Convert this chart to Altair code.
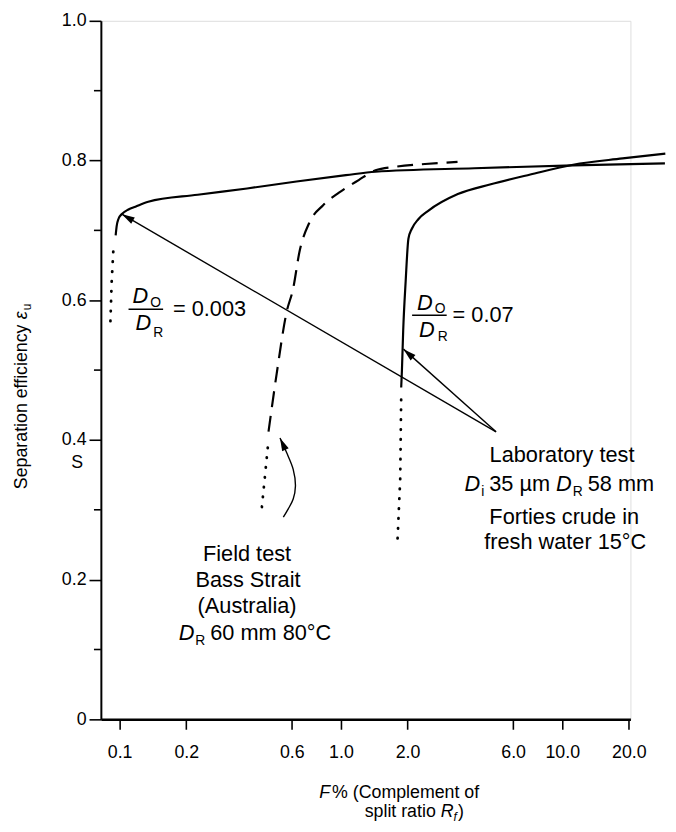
import altair as alt
import pandas as pd

# ---------------- values ----------------
# D_O/D_R = 0.003 (laboratory test): dotted lower part, solid upper part
c1_dot_x = [0.0909, 0.0921, 0.0940]
c1_dot_y = [0.570, 0.627, 0.680]
c1_x = [0.0960, 0.0970, 0.0990, 0.1021, 0.1097, 0.1179, 0.1347, 0.2253, 0.3767,
        0.6297, 1.053, 1.433, 4.007, 11.20, 29.1]
c1_y = [0.693, 0.706, 0.717, 0.723, 0.730, 0.734, 0.741, 0.751, 0.760,
        0.770, 0.779, 0.784, 0.789, 0.793, 0.796]

# D_O/D_R = 0.07 (laboratory test)
c2_dot_x = [1.803, 1.853, 1.872]
c2_dot_y = [0.259, 0.344, 0.462]
c2_x = [1.872, 1.886, 1.911, 1.961, 2.018, 2.089, 2.237, 2.479, 3.374, 4.756,
        7.175, 11.20, 18.73, 29.22]
c2_y = [0.475, 0.499, 0.556, 0.627, 0.688, 0.702, 0.716, 0.728, 0.752, 0.766,
        0.780, 0.794, 0.803, 0.810]

# Field test, Bass Strait (dashed, dotted lower part)
c3_dot_x = [0.4394, 0.4708]
c3_dot_y = [0.304, 0.400]
c3_x = [0.4708, 0.5126, 0.5682, 0.6086, 0.6494, 0.7197, 0.8310, 0.9797, 1.203,
        1.433, 1.760, 2.396, 3.364]
c3_y = [0.412, 0.495, 0.583, 0.617, 0.669, 0.711, 0.736, 0.754, 0.772,
        0.786, 0.791, 0.795, 0.798]

# annotation arrows (tail -> tip)
arrow_long_x = [5.022, 0.1024]
arrow_long_y = [0.4116, 0.7232]
arrow_short_x = [5.022, 1.917]
arrow_short_y = [0.4116, 0.530]
arrow_field_x = [0.5493, 0.5781, 0.6086, 0.6230, 0.6086, 0.5682, 0.5305]
arrow_field_y = [0.2895, 0.3013, 0.3154, 0.3342, 0.3579, 0.3819, 0.4027]
head_angles = [300, 312, 335]

x_ticks = [0.1, 0.2, 0.6, 1.0, 2.0, 6.0, 10.0, 20.0]
y_ticks = [0, 0.2, 0.4, 0.6, 0.8, 1.0]
y_minor = [0.1, 0.3, 0.5, 0.7, 0.9]

# ---------------- layout / style ----------------
FONT = "Liberation Sans"
OX, OY = 102, 16          # page position of plot origin
W, H = 536, 707


def seg(xs, ys, name):
    return pd.DataFrame({"F": xs, "E": ys, "seg": name, "i": list(range(len(xs)))})


solid_df = pd.concat([seg(c1_x, c1_y, "c1"), seg(c2_x, c2_y, "c2")])
dot_df = pd.concat([seg(c1_dot_x, c1_dot_y, "c1"), seg(c2_dot_x, c2_dot_y, "c2"),
                    seg(c3_dot_x, c3_dot_y, "c3")])
dash_df = seg(c3_x, c3_y, "c3")
arrow_df = pd.concat([seg(arrow_long_x, arrow_long_y, "a1"),
                      seg(arrow_short_x, arrow_short_y, "a2"),
                      seg(arrow_field_x, arrow_field_y, "a3")])
head_df = pd.DataFrame({"F": [arrow_long_x[-1], arrow_short_x[-1], arrow_field_x[-1]],
                        "E": [arrow_long_y[-1], arrow_short_y[-1], arrow_field_y[-1]],
                        "ang": head_angles})
minor_df = pd.DataFrame({"E": y_minor})

xscale = alt.Scale(type="log", domain=[0.0823, 20.33], nice=False)
yscale = alt.Scale(domain=[0, 1], nice=False, zero=False)
xaxis = alt.Axis(values=x_ticks, format=".1f", title="", grid=False,
                 domainColor="black", domainWidth=2.5, tickColor="black",
                 tickWidth=1.6, tickSize=10, labelFont=FONT, labelFontSize=18,
                 labelColor="black", labelPadding=15, labelFlush=False,
                 labelOverlap=False)
yaxis = alt.Axis(values=y_ticks,
                 labelExpr="datum.value == 0 ? '0' : format(datum.value, '.1f')",
                 title="", grid=False, domainColor="black", domainWidth=2,
                 tickColor="black", tickWidth=1.6, tickSize=12, labelFont=FONT,
                 labelFontSize=18, labelColor="black", labelPadding=3)
X = alt.X("F:Q", scale=xscale, axis=xaxis)
Y = alt.Y("E:Q", scale=yscale, axis=yaxis)

layers = []
layers.append(alt.Chart(solid_df).mark_line(color="black", strokeWidth=2.2,
                                            interpolate="monotone")
              .encode(x=X, y=Y, detail="seg:N", order="i:Q"))
layers.append(alt.Chart(dash_df).mark_line(color="black", strokeWidth=2.2,
                                           strokeDash=[16, 9], interpolate="monotone")
              .encode(x=X, y=Y, detail="seg:N", order="i:Q"))
layers.append(alt.Chart(dot_df).mark_line(color="black", strokeWidth=2.8,
                                          strokeDash=[0.5, 9.5], strokeCap="round")
              .encode(x=X, y=Y, detail="seg:N", order="i:Q"))
layers.append(alt.Chart(arrow_df).mark_line(color="black", strokeWidth=1.4,
                                            interpolate="catmull-rom")
              .encode(x=X, y=Y, detail="seg:N", order="i:Q"))
layers.append(alt.Chart(head_df).mark_point(shape="M0,0L-0.28,1L0.28,1Z", filled=True,
                                            color="black", opacity=1, size=676,
                                            strokeWidth=0)
              .encode(x=X, y=Y, angle=alt.Angle("ang:Q", scale=None)))
layers.append(alt.Chart(minor_df).mark_rule(color="black", strokeWidth=1.6)
              .encode(y=Y, x=alt.value(-7), x2=alt.value(0)))

# ---------------- text ----------------
WID = {' ': .278, '%': .889, '(': .333, ')': .333, '.': .278, '=': .584, '°': .4,
       'µ': .576, 'ε': .45, 'A': .667, 'B': .667, 'C': .722, 'D': .722, 'F': .611,
       'L': .667, 'O': .778, 'R': .722, 'S': .667, 'a': .556, 'b': .556, 'c': .5,
       'd': .556, 'e': .556, 'f': .278, 'h': .556, 'i': .222, 'l': .222, 'm': .833,
       'n': .556, 'o': .556, 'p': .556, 'r': .333, 's': .5, 't': .278, 'u': .556,
       'w': .722, 'y': .5}


def tw(s, fs):
    return sum(WID.get(c, 0.556) for c in s) * fs


texts = []  # (text, x, y, size, italic, angle, baseline)


def put(t, x, y, s, it=False, angle=0, base="alphabetic"):
    texts.append((t, x, y, s, it, angle, base))


def line(runs, cx, base):
    # runs: (text, size, italic, dy, extra gap after)
    total = sum(tw(r[0], r[1]) + r[4] for r in runs)
    x = cx - total / 2
    for t, s, it, dy, gap in runs:
        put(t, x, base + dy, s, it)
        x += tw(t, s) + gap


A, SUB = 22, 14
# fraction D_O/D_R = 0.003
put("D", 134, 302, A, True); put("O", 152, 305.6, SUB)
put("D", 137, 329, A, True); put("R", 155, 335.5, SUB)
put("= 0.003", 175, 314.5, A)
# fraction D_O/D_R = 0.07
put("D", 422, 309, A, True); put("O", 440, 311.6, SUB)
put("D", 424, 336, A, True); put("R", 443, 340.5, SUB)
put("= 0.07", 458, 320.5, A)
bars = [(130, 165, 308), (417, 452, 314)]

# laboratory block
line([("Laboratory test", A, False, 0, 0)], 570, 462.5)
line([("D", A, True, 0, 1), ("i", SUB, False, 5, 5), ("35 µm ", A, False, 0, 0),
      ("D", A, True, 0, 1), ("R", SUB, False, 5, 5), ("58 mm", A, False, 0, 0)], 566, 491.5)
line([("Forties crude in", A, False, 0, 0)], 571, 525.5)
line([("fresh water 15°C", A, False, 0, 0)], 572, 550.5)
# field block
line([("Field test", A, False, 0, 0)], 250, 562.5)
line([("Bass Strait", A, False, 0, 0)], 251, 589.5)
line([("(Australia)", A, False, 0, 0)], 250, 615.5)
line([("D", A, True, 0, 1), ("R", SUB, False, 5, 5), ("60 mm 80°C", A, False, 0, 0)],
     258, 642.5)

# x axis title
T = 18
x0 = 323
put("F", x0, 803, T, True); put("% (Complement of", x0 + tw("F", T) + 2, 803, T)
x1 = 369
put("split ratio ", x1, 822, T)
xx = x1 + tw("split ratio ", T)
put("R", xx, 822, T, True); xx += tw("R", T)
put("f", xx, 826, 12, True); xx += tw("f", 12) + 1
put(")", xx, 822, T)

# y axis title (rotated, reads upward)
TY = 18
yb = 490
put("Separation efficiency ", 22, yb, TY, False, 270, "middle")
yy = yb - tw("Separation efficiency ", TY)
put("ε", 22, yy, TY, True, 270, "middle")
yy -= tw("ε", TY) + 1
put("u", 27, yy, 12, False, 270, "middle")
put("S", 72, 464, 18, False, 0, "middle")

one = pd.DataFrame({"k": [0]})
for t, x, y, s, it, ang, base in texts:
    mk = dict(text=t, font=FONT, fontSize=s, color="black", align="left",
              baseline=base)
    if it:
        mk["fontStyle"] = "italic"
    if ang:
        mk["angle"] = ang
    layers.append(alt.Chart(one).mark_text(**mk)
                  .encode(x=alt.value(x - OX), y=alt.value(y - OY)))
for a, b, c in bars:
    layers.append(alt.Chart(one).mark_rule(color="black", strokeWidth=1.5)
                  .encode(x=alt.value(a - OX), x2=alt.value(b - OX), y=alt.value(c - OY)))

chart = (alt.layer(*layers)
         .properties(width=W, height=H,
                     autosize=alt.AutoSizeParams(type="none"),
                     padding={"left": 94, "top": 8, "right": 38, "bottom": 107})
         .configure_view(stroke="transparent")
         .configure(background="white"))

chart.save("out.html", embed_options={"renderer": "svg", "actions": False})
